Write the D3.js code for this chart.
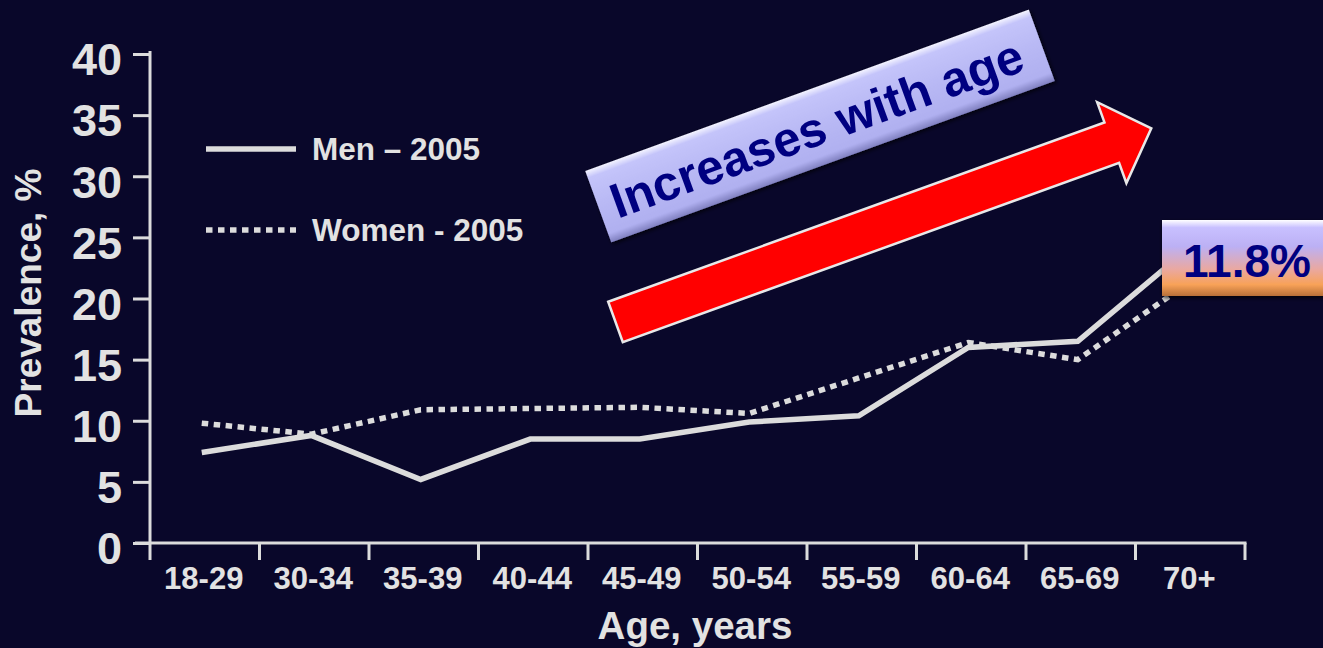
<!DOCTYPE html>
<html>
<head>
<meta charset="utf-8">
<script src="https://cdn.jsdelivr.net/npm/d3@7"></script>
<style>
  html, body { margin: 0; padding: 0; background: #09072a; }
  svg { display: block; }
  text { font-family: "Liberation Sans", Arial, sans-serif; font-weight: bold; }
</style>
</head>
<body>
<svg id="chart" width="1323" height="648"></svg>
<script>
// Prevalence by age group, men and women (2005)
const ageGroups = ["18-29", "30-34", "35-39", "40-44", "45-49", "50-54", "55-59", "60-64", "65-69", "70+"];
const menValues = [7.4, 8.8, 5.2, 8.5, 8.5, 9.9, 10.4, 16.0, 16.5, 24.0];
const womenValues = [9.8, 8.9, 10.9, 11.0, 11.1, 10.6, 13.5, 16.4, 15.0, 21.2];
const yTicks = [0, 5, 10, 15, 20, 25, 30, 35, 40];
const seriesNames = ["Men \u2013 2005", "Women - 2005"];
const trendText = "Increases with age";
const overallLabel = "11.8%";

const W = 1323, H = 648;
const axisColor = "#dcdcdc";
const textColor = "#e2e2e2";
const navy = "#000080";

const svg = d3.select("#chart");
svg.append("rect").attr("width", W).attr("height", H).attr("fill", "#09072a");

const defs = svg.append("defs");

// fills for the annotation boxes
const trendGrad = defs.append("linearGradient").attr("id", "trendFill")
  .attr("x1", 0).attr("y1", 0).attr("x2", 0).attr("y2", 1);
[[0, "#f4f4ff"], [0.1, "#c4c4fa"], [0.5, "#b8b8f4"], [0.88, "#b0b0f0"], [1, "#8080c0"]]
  .forEach(([o, c]) => trendGrad.append("stop").attr("offset", o).attr("stop-color", c));

const labelGrad = defs.append("linearGradient").attr("id", "labelFill")
  .attr("x1", 0).attr("y1", 0).attr("x2", 0).attr("y2", 1);
[[0, "#ffffff"], [0.1, "#c8c0ff"], [0.35, "#bcb0f4"], [0.65, "#eaa8a0"], [0.85, "#f8a258"], [1, "#b87038"]]
  .forEach(([o, c]) => labelGrad.append("stop").attr("offset", o).attr("stop-color", c));

const shadow = defs.append("filter").attr("id", "shadow")
  .attr("x", "-10%").attr("y", "-20%").attr("width", "120%").attr("height", "150%");
shadow.append("feDropShadow").attr("dx", 1).attr("dy", 2).attr("stdDeviation", 2)
  .attr("flood-color", "#000").attr("flood-opacity", 0.8);

// scales
const x = d3.scaleBand().domain(ageGroups).range([150, 1245]).padding(0);
const y = d3.scaleLinear().domain([0, 40]).range([543, 54]);
const px = d => x(d) + x.bandwidth() / 2 - 3;

// y axis
const yAxis = svg.append("g").attr("transform", "translate(150,0)")
  .call(d3.axisLeft(y).tickValues(yTicks).tickSize(17).tickSizeOuter(0).tickPadding(11));
yAxis.select(".domain").remove();
yAxis.selectAll(".tick line").attr("stroke", axisColor).attr("stroke-width", 3);
yAxis.selectAll(".tick text").attr("fill", textColor).attr("font-size", 45)
  .attr("dy", "0.35em").attr("y", 5).attr("x", -28);
svg.append("line").attr("x1", 150).attr("x2", 150)
  .attr("y1", y(40) - 3).attr("y2", y(0) + 17)
  .attr("stroke", axisColor).attr("stroke-width", 3);

// x axis
svg.append("line").attr("x1", 135).attr("x2", x.range()[1] + 1.5)
  .attr("y1", y(0)).attr("y2", y(0))
  .attr("stroke", axisColor).attr("stroke-width", 3);
const bounds = ageGroups.map(d => x(d)).concat([x.range()[1]]);
svg.append("g").selectAll("line").data(bounds.slice(1)).join("line")
  .attr("x1", d => d).attr("x2", d => d)
  .attr("y1", y(0)).attr("y2", y(0) + 17)
  .attr("stroke", axisColor).attr("stroke-width", 3);
const xAxis = svg.append("g").attr("transform", `translate(0,${y(0)})`)
  .call(d3.axisBottom(x).tickSize(0).tickPadding(0));
xAxis.select(".domain").remove();
xAxis.selectAll(".tick text").attr("fill", textColor).attr("font-size", 31)
  .attr("dy", null).attr("y", 46).attr("dominant-baseline", "alphabetic").attr("dx", -1);

// axis titles
svg.append("text").attr("x", 695).attr("y", 639).attr("text-anchor", "middle")
  .attr("font-size", 38.5).attr("fill", textColor).text("Age, years");
svg.append("text").attr("transform", "translate(41,293) rotate(-90)")
  .attr("text-anchor", "middle").attr("font-size", 37).attr("fill", textColor)
  .text("Prevalence, %");

// data lines
const line = d3.line().x((d, i) => px(ageGroups[i])).y(d => y(d));
svg.append("path").datum(menValues).attr("d", line)
  .attr("fill", "none").attr("stroke", axisColor).attr("stroke-width", 5.5);
svg.append("path").datum(womenValues).attr("d", line)
  .attr("fill", "none").attr("stroke", axisColor).attr("stroke-width", 5.5)
  .attr("stroke-dasharray", "6.5 5.5");

// legend
const legend = svg.append("g");
const dashes = [null, "6.5 5.5"];
const legendY = [149, 230];
seriesNames.forEach((name, i) => {
  legend.append("line").attr("x1", 206).attr("x2", 296)
    .attr("y1", legendY[i]).attr("y2", legendY[i])
    .attr("stroke", axisColor).attr("stroke-width", 5.5)
    .attr("stroke-dasharray", dashes[i]);
  legend.append("text").attr("x", 312).attr("y", legendY[i] + 11)
    .attr("font-size", 31.5).attr("fill", textColor).text(name);
});

// trend arrow
const arrowLen = 569.7, headLen = 42, shaftHalf = 21.5, headHalf = 43;
const arrowPts = [
  [0, -shaftHalf], [arrowLen - headLen, -shaftHalf], [arrowLen - headLen, -headHalf],
  [arrowLen, 0], [arrowLen - headLen, headHalf], [arrowLen - headLen, shaftHalf], [0, shaftHalf]
];
svg.append("g").attr("transform", "translate(615.5,322) rotate(-19.87)")
  .append("polygon").attr("points", arrowPts.map(p => p.join(",")).join(" "))
  .attr("fill", "#ff0000").attr("stroke", "#e8e8e8").attr("stroke-width", 2.5)
  .attr("stroke-linejoin", "miter");

// trend caption box
const trend = svg.append("g").attr("transform", "translate(820,126) rotate(-20)");
trend.append("rect").attr("x", -236).attr("y", -38).attr("width", 472).attr("height", 76)
  .attr("fill", "url(#trendFill)").attr("filter", "url(#shadow)");
trend.append("text").attr("x", -4).attr("y", 18).attr("text-anchor", "middle")
  .attr("font-size", 49).attr("fill", navy).text(trendText);

// overall prevalence label
const lab = svg.append("g");
lab.append("rect").attr("x", 1162).attr("y", 220).attr("width", 170).attr("height", 76)
  .attr("fill", "url(#labelFill)").attr("filter", "url(#shadow)");
lab.append("text").attr("x", 1183).attr("y", 277).attr("font-size", 46)
  .attr("fill", navy).text(overallLabel);
</script>
</body>
</html>
